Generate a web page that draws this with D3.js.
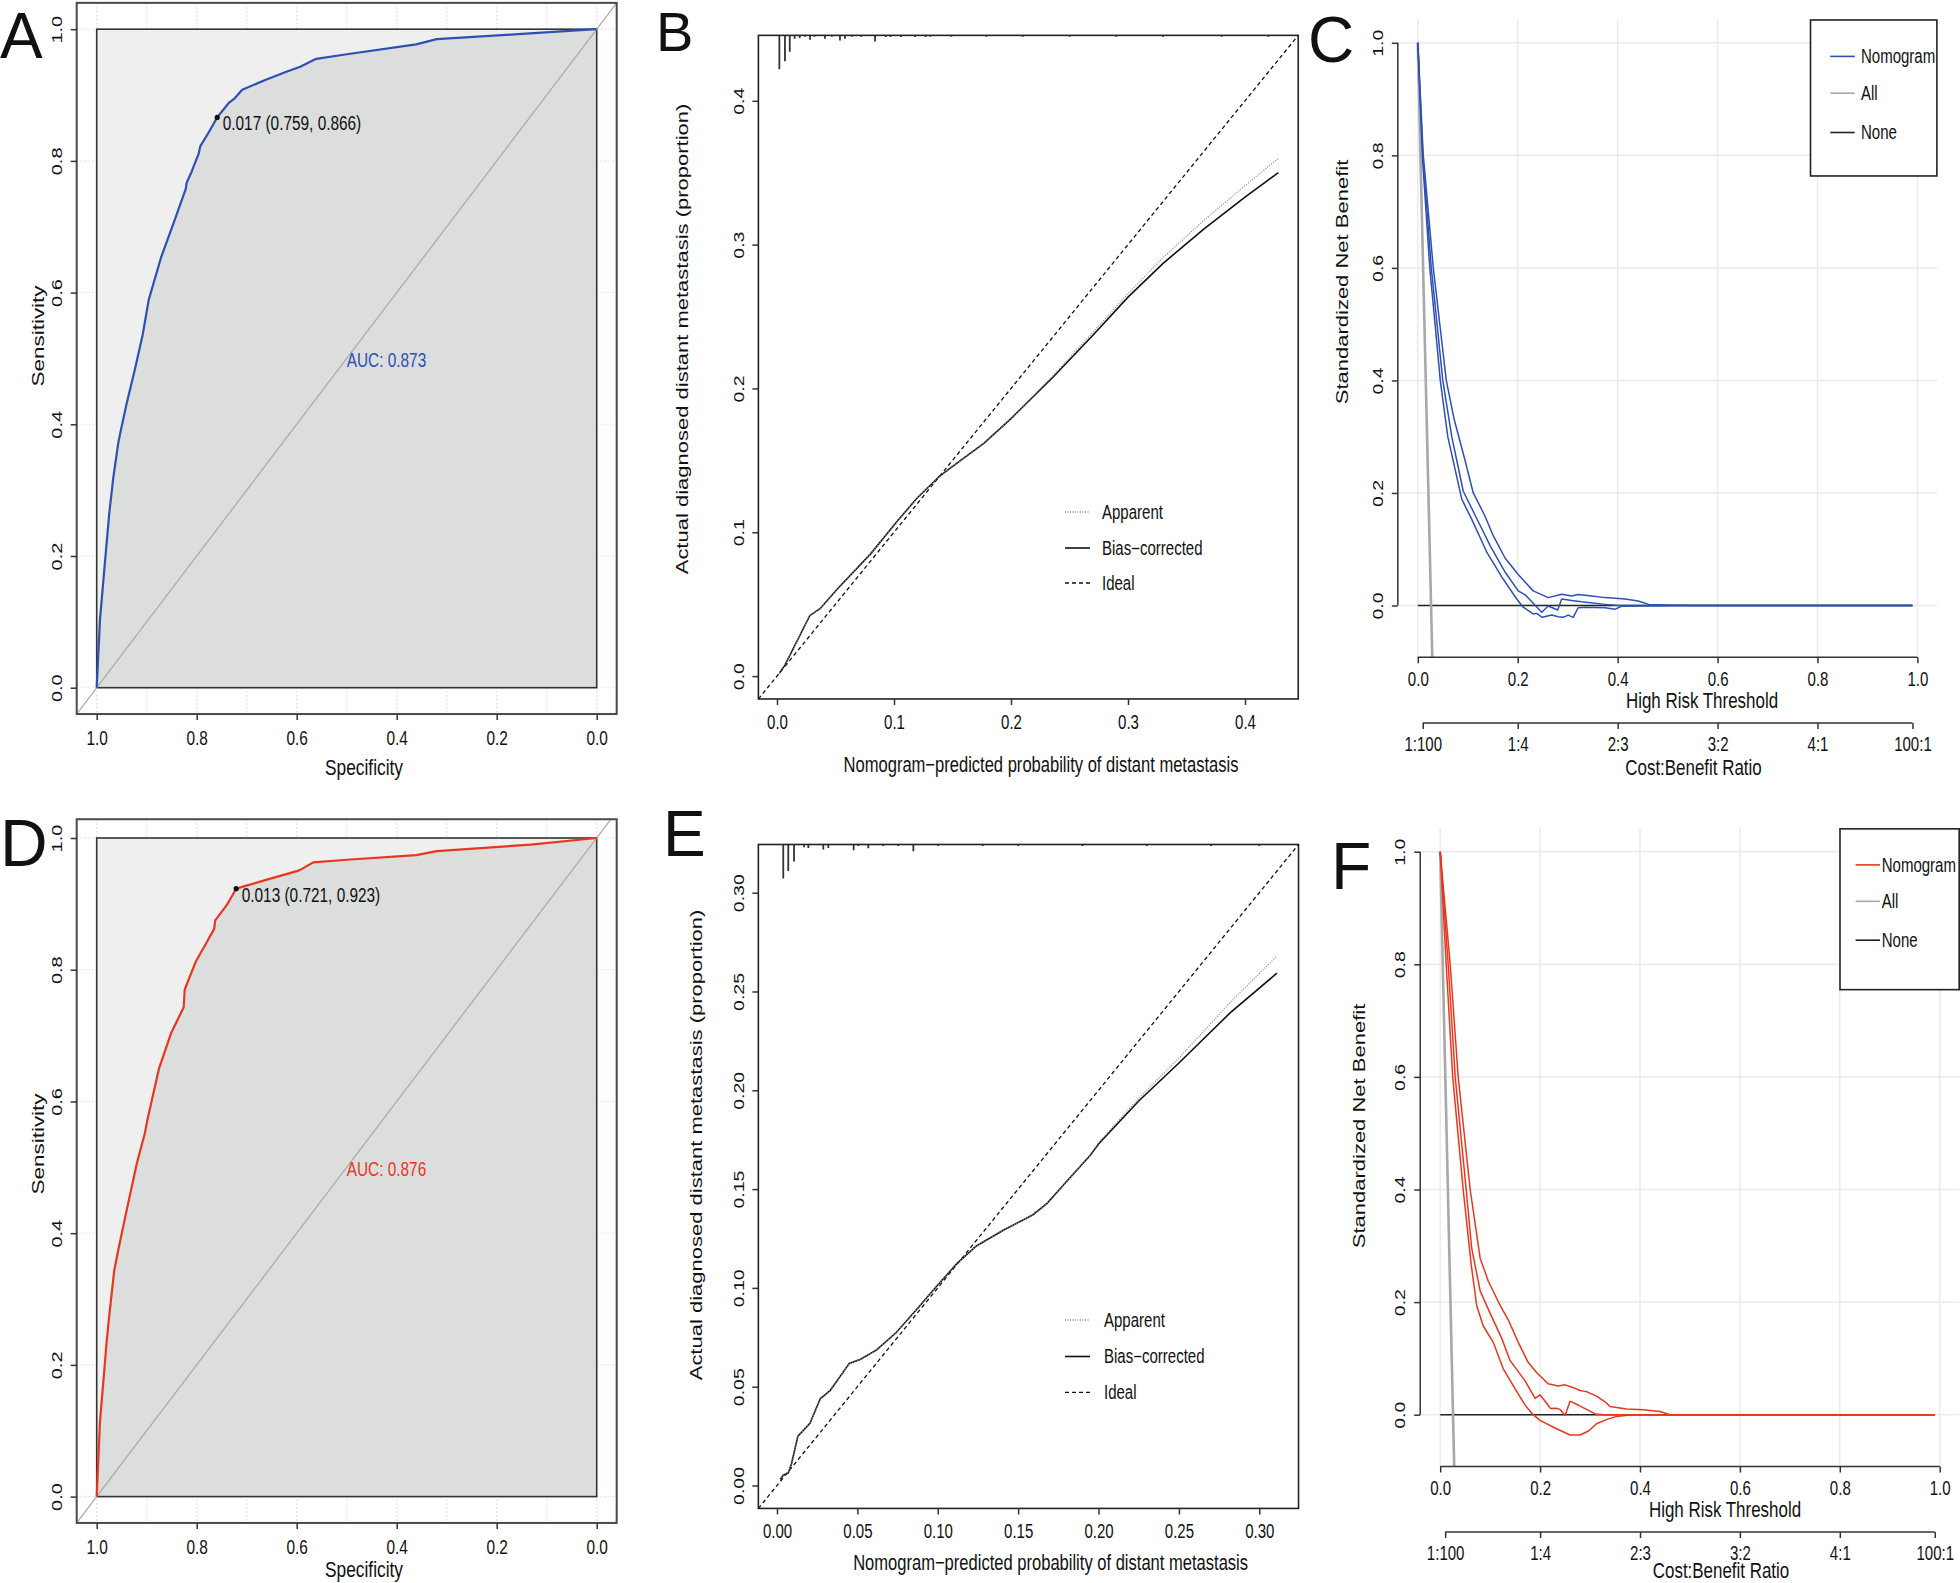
<!DOCTYPE html>
<html><head><meta charset="utf-8">
<script src="https://cdn.jsdelivr.net/npm/d3@7"></script>
<style>
body{margin:0;background:#fff}
svg{display:block}
text{font-family:"Liberation Sans",Arial,Helvetica,sans-serif;fill:#111}
</style></head>
<body><svg id="c" width="1960" height="1583"></svg>
<script>
// ================= DATA =================
// ROC (panel A, training)
const rocA_spec = [1, 0.9935, 0.983, 0.975, 0.967, 0.957, 0.952, 0.94, 0.924, 0.908, 0.896, 0.871, 0.847, 0.822, 0.82, 0.81, 0.796, 0.793, 0.777, 0.759, 0.736, 0.724, 0.709, 0.663, 0.622, 0.593, 0.561, 0.5, 0.361, 0.32, 0.165, 0];
const rocA_sens = [0, 0.103, 0.195, 0.264, 0.318, 0.371, 0.39, 0.432, 0.482, 0.536, 0.589, 0.654, 0.704, 0.757, 0.767, 0.784, 0.811, 0.822, 0.842, 0.866, 0.888, 0.895, 0.908, 0.923, 0.935, 0.943, 0.955, 0.962, 0.977, 0.985, 0.992, 1];
const thrA = [0.759, 0.866];
const thrA_label = "0.017 (0.759, 0.866)";
const aucA_label = "AUC: 0.873";
// ROC (panel D, validation)
const rocD_spec = [1, 0.9935, 0.985, 0.98, 0.975, 0.965, 0.957, 0.94, 0.92, 0.904, 0.898, 0.875, 0.851, 0.826, 0.824, 0.802, 0.785, 0.765, 0.763, 0.74, 0.721, 0.704, 0.663, 0.598, 0.592, 0.567, 0.5, 0.361, 0.32, 0.132, 0];
const rocD_sens = [0, 0.113, 0.19, 0.236, 0.274, 0.343, 0.374, 0.435, 0.505, 0.551, 0.574, 0.651, 0.704, 0.743, 0.770, 0.812, 0.835, 0.862, 0.875, 0.898, 0.923, 0.927, 0.936, 0.95, 0.952, 0.963, 0.967, 0.974, 0.98, 0.99, 1];
const thrD = [0.721, 0.923];
const thrD_label = "0.013 (0.721, 0.923)";
const aucD_label = "AUC: 0.876";
const rocTicks = [0, 0.2, 0.4, 0.6, 0.8, 1.0];
const rocGridX = [0, 0.1, 0.2, 0.3, 0.4, 0.5, 0.6, 0.7, 0.8, 0.9, 1.0];
const rocGridY = [0, 0.2, 0.4, 0.6, 0.8, 1.0];

// Calibration (panel B)
const calB_x        = [0.002, 0.007, 0.028, 0.037, 0.051, 0.080, 0.102, 0.120, 0.139, 0.157, 0.177, 0.200, 0.236, 0.270, 0.300, 0.330, 0.365, 0.400, 0.4285];
const calB_bias     = [0.002, 0.008, 0.042, 0.047, 0.060, 0.085, 0.107, 0.124, 0.139, 0.150, 0.162, 0.179, 0.208, 0.237, 0.2635, 0.287, 0.311, 0.333, 0.350];
const calB_apparent = [0.002, 0.008, 0.042, 0.047, 0.060, 0.085, 0.107, 0.124, 0.139, 0.150, 0.162, 0.179, 0.209, 0.239, 0.266, 0.291, 0.317, 0.341, 0.360];
const calB_lim = [-0.0159, 0.4455];
const calB_ticks = [0, 0.1, 0.2, 0.3, 0.4];
const rugB_x = [0.002, 0.0068, 0.0109, 0.0151, 0.0194, 0.024, 0.0282, 0.032, 0.041, 0.047, 0.0538, 0.0581, 0.064, 0.072, 0.0838, 0.093, 0.097, 0.106, 0.118, 0.127, 0.131, 0.149, 0.179, 0.21, 0.25, 0.29, 0.33, 0.38, 0.42];
const rugB_h = [1, 0.76, 0.48, 0.10, 0.08, 0.04, 0.13, 0.04, 0.10, 0.04, 0.15, 0.10, 0.04, 0.04, 0.18, 0.05, 0.05, 0.05, 0.05, 0.05, 0.04, 0.04, 0.04, 0.03, 0.03, 0.03, 0.03, 0.03, 0.03];

// Calibration (panel E)
const calE_x        = [0.002, 0.004, 0.007, 0.009, 0.013, 0.0205, 0.027, 0.033, 0.045, 0.052, 0.062, 0.074, 0.087, 0.099, 0.112, 0.124, 0.141, 0.159, 0.168, 0.180, 0.195, 0.200, 0.225, 0.250, 0.282, 0.311];
const calE_bias     = [0.003, 0.0053, 0.0062, 0.011, 0.025, 0.0315, 0.044, 0.048, 0.0618, 0.0639, 0.0686, 0.0773, 0.0892, 0.1006, 0.1124, 0.1212, 0.1293, 0.1369, 0.1428, 0.1537, 0.1673, 0.1728, 0.1946, 0.2138, 0.2393, 0.2593];
const calE_apparent = [0.003, 0.0053, 0.0062, 0.011, 0.025, 0.0315, 0.044, 0.048, 0.0618, 0.0639, 0.0686, 0.0773, 0.0892, 0.1006, 0.1124, 0.1212, 0.1293, 0.1369, 0.1428, 0.1537, 0.1673, 0.1735, 0.1960, 0.2163, 0.2445, 0.2680];
const calE_lim = [-0.0116, 0.3244];
const calE_ticks = [0, 0.05, 0.10, 0.15, 0.20, 0.25, 0.30];
const rugE_x = [0.0039, 0.007, 0.0106, 0.0168, 0.0195, 0.0288, 0.0319, 0.0477, 0.0506, 0.0568, 0.0661, 0.0754, 0.0848, 0.1003, 0.128, 0.15, 0.19, 0.23, 0.27, 0.30];
const rugE_h = [1, 0.78, 0.5, 0.08, 0.10, 0.15, 0.10, 0.17, 0.03, 0.11, 0.03, 0.03, 0.20, 0.03, 0.03, 0.03, 0.03, 0.03, 0.03, 0.03];

// Decision curves (panel C)
const dcaC_est = [[0,1],[0.01,0.8],[0.027,0.6],[0.05,0.4],[0.068,0.3],[0.091,0.203],[0.115,0.16],[0.145,0.106],[0.175,0.059],[0.201,0.026],[0.215,0.019],[0.231,0.004],[0.248,-0.012],[0.261,-0.001],[0.28,-0.008],[0.288,0.0116],[0.308,0.009],[0.328,0.0065],[0.375,0.002],[0.401,0],[0.99,0]];
const dcaC_lo  = [[0,1],[0.009,0.8],[0.024,0.6],[0.045,0.4],[0.06,0.3],[0.088,0.189],[0.108,0.153],[0.138,0.095],[0.168,0.051],[0.198,0.0116],[0.211,-0.003],[0.231,-0.015],[0.238,-0.014],[0.249,-0.021],[0.268,-0.017],[0.281,-0.02],[0.291,-0.021],[0.301,-0.017],[0.311,-0.021],[0.321,-0.004],[0.335,-0.003],[0.375,-0.004],[0.395,-0.0065],[0.408,-0.0015],[0.441,-0.001],[0.535,0],[0.99,0]];
const dcaC_hi  = [[0,1],[0.011,0.8],[0.031,0.6],[0.057,0.4],[0.073,0.33],[0.094,0.26],[0.111,0.2],[0.134,0.16],[0.151,0.124],[0.175,0.084],[0.201,0.055],[0.231,0.026],[0.261,0.014],[0.288,0.02],[0.308,0.017],[0.321,0.0196],[0.348,0.0167],[0.375,0.014],[0.415,0.0116],[0.441,0.008],[0.462,0.002],[0.542,0],[0.99,0]];
const dcaC_all = [[0,1],[0.029,-0.092]];
// Decision curves (panel F)
const dcaF_est = [[0,1],[0.016,0.8],[0.03,0.6],[0.052,0.4],[0.063,0.296],[0.08,0.22],[0.1,0.18],[0.123,0.136],[0.14,0.096],[0.17,0.06],[0.19,0.029],[0.2,0.035],[0.21,0.024],[0.221,0.011],[0.232,0.0116],[0.24,0.0094],[0.25,-0.0014],[0.26,0.024],[0.277,0.0167],[0.293,0.0094],[0.31,0.0014],[0.327,0],[0.99,0]];
const dcaF_lo  = [[0,1],[0.012,0.8],[0.025,0.6],[0.046,0.4],[0.062,0.267],[0.073,0.194],[0.086,0.158],[0.106,0.129],[0.126,0.082],[0.15,0.046],[0.17,0.017],[0.186,0],[0.2,-0.01],[0.233,-0.025],[0.26,-0.036],[0.28,-0.036],[0.297,-0.029],[0.307,-0.021],[0.313,-0.016],[0.333,-0.0087],[0.353,-0.003],[0.38,-0.0007],[0.4,0],[0.99,0]];
const dcaF_hi  = [[0,1],[0.02,0.8],[0.036,0.6],[0.06,0.4],[0.08,0.278],[0.096,0.238],[0.12,0.194],[0.136,0.169],[0.156,0.129],[0.176,0.093],[0.193,0.075],[0.216,0.055],[0.236,0.051],[0.25,0.053],[0.267,0.048],[0.28,0.043],[0.293,0.041],[0.313,0.033],[0.33,0.023],[0.34,0.0145],[0.373,0.01],[0.407,0.0087],[0.44,0.0058],[0.46,0],[0.99,0]];
const dcaF_all = [[0,1],[0.028,-0.092]];
const dca_none = [[0,0],[0.99,0]];
const dcaTicks = [0, 0.2, 0.4, 0.6, 0.8, 1.0];
const cbTicks = [0.0099, 0.2, 0.4, 0.6, 0.8, 0.9901];
const cbLabels = ["1:100", "1:4", "2:3", "3:2", "4:1", "100:1"];
const dcaLegend = ["Nomogram", "All", "None"];
const calLegend = ["Apparent", "Bias\u2212corrected", "Ideal"];

// ================= DRAWING =================
const SQ = 0.77;
const svg = d3.select("#c");
let clipN = 0;

function addText(g, x, y, s, o = {}) {
  const sq = o.sq === undefined ? SQ : o.sq;
  let tr = `translate(${x},${y}) scale(${sq},1)`;
  if (o.rot) tr += " rotate(-90)";
  return g.append("text").attr("transform", tr)
    .attr("text-anchor", o.anchor || "middle")
    .attr("dy", o.dy === undefined ? "0.35em" : o.dy)
    .style("font-size", (o.size || 19) + "px")
    .style("fill", o.fill || "#111")
    .text(s);
}
function clip(L, T, R, B) {
  const id = "clip" + (clipN++);
  svg.append("clipPath").attr("id", id).append("rect")
    .attr("x", L).attr("y", T).attr("width", R - L).attr("height", B - T);
  return `url(#${id})`;
}
function bottomAxis(g, scale, y0, ticks, fmt, o = {}) {
  const a = g.append("g").attr("transform", `translate(0,${y0})`)
    .call(d3.axisBottom(scale).tickValues(ticks).tickFormat(fmt).tickSize(6).tickSizeOuter(0));
  a.select(".domain").remove();
  a.selectAll(".tick line").attr("stroke", "#333").attr("stroke-width", 1.5);
  a.selectAll(".tick text").attr("y", null).attr("dy", "0.35em")
    .attr("transform", `translate(0,${o.off || 23}) scale(${SQ},1)`)
    .style("font-size", (o.size || 19.5) + "px");
  if (o.line) a.append("line").attr("x1", scale(ticks[0])).attr("x2", scale(ticks[ticks.length - 1]))
    .attr("stroke", "#333").attr("stroke-width", 1.5);
  return a;
}
function leftAxis(g, scale, x0, ticks, fmt, o = {}) {
  const a = g.append("g").attr("transform", `translate(${x0},0)`)
    .call(d3.axisLeft(scale).tickValues(ticks).tickFormat(fmt).tickSize(6).tickSizeOuter(0));
  a.select(".domain").remove();
  a.selectAll(".tick line").attr("stroke", "#333").attr("stroke-width", 1.5);
  a.selectAll(".tick text").attr("x", null).attr("dy", "0.35em").attr("text-anchor", "middle")
    .attr("transform", `translate(${-(o.off || 20)},0) scale(${SQ},1) rotate(-90)`)
    .style("font-size", (o.size || 19.5) + "px");
  if (o.line) a.append("line").attr("y1", scale(ticks[0])).attr("y2", scale(ticks[ticks.length - 1]))
    .attr("stroke", "#333").attr("stroke-width", 1.5);
  return a;
}

// ---------- ROC panels ----------
function rocPanel(o) {
  const g = svg.append("g");
  const x = d3.scaleLinear().domain([1, 0]).range([96.7, 596.7]);
  const y = d3.scaleLinear().domain([0, 1]).range(o.yr);
  const L = x(1.04), R = x(-0.04), T = y(o.ytop), B = y(-0.04);
  const cp = clip(L, T, R, B);
  const gg = g.append("g").attr("clip-path", cp);
  gg.selectAll(".gx").data(rocGridX).join("line")
    .attr("x1", d => x(d)).attr("x2", d => x(d)).attr("y1", T).attr("y2", B)
    .attr("stroke", "#d8d8d8").attr("stroke-dasharray", "1.5,2.5");
  gg.selectAll(".gy").data(rocGridY).join("line")
    .attr("y1", d => y(d)).attr("y2", d => y(d)).attr("x1", L).attr("x2", R)
    .attr("stroke", "#d8d8d8").attr("stroke-dasharray", "1.5,2.5");
  // max AUC polygon
  gg.append("rect").attr("x", x(1)).attr("y", y(1)).attr("width", x(0) - x(1)).attr("height", y(0) - y(1))
    .attr("fill", "#efefef");
  const pts = o.spec.map((s, i) => [s, o.sens[i]]);
  const area = pts.concat([[0, 0]]);
  gg.append("path").datum(area)
    .attr("d", d3.line().x(d => x(d[0])).y(d => y(d[1]))(area) + "Z")
    .attr("fill", "#dcdddd");
  gg.append("rect").attr("x", x(1)).attr("y", y(1)).attr("width", x(0) - x(1)).attr("height", y(0) - y(1))
    .attr("fill", "none").attr("stroke", "#333").attr("stroke-width", 1.6);
  // identity
  gg.append("line").attr("x1", x(1.1)).attr("y1", y(-0.1)).attr("x2", x(-0.1)).attr("y2", y(1.1))
    .attr("stroke", "#a9a9a9").attr("stroke-width", 1.2);
  // curve
  gg.append("path").datum(pts)
    .attr("d", d3.line().x(d => x(d[0])).y(d => y(d[1])))
    .attr("fill", "none").attr("stroke", o.color).attr("stroke-width", 2.2).attr("stroke-linejoin", "round");
  // threshold
  g.append("circle").attr("cx", x(o.thr[0])).attr("cy", y(o.thr[1])).attr("r", 2.6).attr("fill", "#111");
  addText(g, x(o.thr[0]) + 5.5, y(o.thr[1]) + 6, o.thrLabel, { anchor: "start", size: 20 });
  addText(g, x(0.5), y(0.5) + 2, o.auc, { anchor: "start", size: 20, fill: o.color });
  // frame
  g.append("rect").attr("x", L).attr("y", T).attr("width", R - L).attr("height", B - T)
    .attr("fill", "none").attr("stroke", "#4a4a4a").attr("stroke-width", 2);
  bottomAxis(g, x, B, rocTicks, d3.format(".1f"), { off: o.xoff, size: 20 });
  leftAxis(g, y, L, rocTicks, d3.format(".1f"), { off: 20, size: 20 });
  addText(g, 364, o.xTitleY, "Specificity", { size: 22.5 });
  addText(g, 37.5, o.yTitleY, "Sensitivity", { size: 22.5, rot: true });
}

// ---------- calibration panels ----------
function calPanel(o) {
  const g = svg.append("g");
  const x = d3.scaleLinear().domain(o.xd).range(o.xr);
  const y = d3.scaleLinear().domain(o.yd).range(o.yr);
  const L = x(o.lim[0]), R = x(o.lim[1]), T = y(o.lim[1]), B = y(o.lim[0]);
  const cp = clip(L, T, R, B);
  const gg = g.append("g").attr("clip-path", cp);
  gg.append("line").attr("x1", x(o.lim[0])).attr("y1", y(o.lim[0])).attr("x2", x(o.lim[1])).attr("y2", y(o.lim[1]))
    .attr("stroke", "#111").attr("stroke-width", 1.3).attr("stroke-dasharray", "4,3");
  const line = d3.line().x(d => x(d[0])).y(d => y(d[1]));
  gg.append("path").datum(o.cx.map((v, i) => [v, o.bias[i]])).attr("d", line)
    .attr("fill", "none").attr("stroke", "#111").attr("stroke-width", 1.6);
  gg.append("path").datum(o.cx.map((v, i) => [v, o.app[i]])).attr("d", line)
    .attr("fill", "none").attr("stroke", "#8a8a8a").attr("stroke-width", 1.3).attr("stroke-dasharray", "1,1.5");
  // rug / histogram
  const h = d3.scaleLinear().domain([0, 1]).range([0, 34]);
  gg.selectAll(".rug").data(o.rx).join("line")
    .attr("x1", d => x(d)).attr("x2", d => x(d)).attr("y1", T)
    .attr("y2", (d, i) => T + Math.max(1.5, h(o.rh[i])))
    .attr("stroke", "#333").attr("stroke-width", 1.8);
  g.append("rect").attr("x", L).attr("y", T).attr("width", R - L).attr("height", B - T)
    .attr("fill", "none").attr("stroke", "#222").attr("stroke-width", 1.6);
  bottomAxis(g, x, B, o.ticks, d3.format(o.fmt), { off: 23 });
  leftAxis(g, y, L, o.ticks, d3.format(o.fmt), { off: 19.5 });
  addText(g, o.xTitle[0], o.xTitle[1], "Nomogram\u2212predicted probability of distant metastasis", { size: 21.5 });
  addText(g, o.yTitle[0], o.yTitle[1], "Actual diagnosed distant metastasis (proportion)", { size: 22, rot: true });
  // legend
  const styles = [
    { c: "#8a8a8a", w: 1.3, d: "1,1.5" },
    { c: "#111", w: 1.6, d: null },
    { c: "#111", w: 1.3, d: "4,3" }
  ];
  calLegend.forEach((s, i) => {
    g.append("line").attr("x1", o.leg.x1).attr("x2", o.leg.x2).attr("y1", o.leg.rows[i]).attr("y2", o.leg.rows[i])
      .attr("stroke", styles[i].c).attr("stroke-width", styles[i].w).attr("stroke-dasharray", styles[i].d);
    addText(g, o.leg.tx, o.leg.rows[i], s, { anchor: "start", size: 19.5 });
  });
}

// ---------- decision curve panels ----------
function dcaPanel(o) {
  const g = svg.append("g");
  const x = d3.scaleLinear().domain([0, 1]).range(o.xr);
  const y = d3.scaleLinear().domain([0, 1]).range(o.yr);
  const L = x(-0.04), R = x(1.04), T = y(1.042), B = y(-0.092);
  const cp = clip(L, T, R, B);
  const gg = g.append("g").attr("clip-path", cp);
  gg.selectAll(".gx").data(dcaTicks).join("line")
    .attr("x1", d => x(d)).attr("x2", d => x(d)).attr("y1", T).attr("y2", B)
    .attr("stroke", "#ebebeb").attr("stroke-width", 1.5);
  gg.selectAll(".gy").data(dcaTicks).join("line")
    .attr("y1", d => y(d)).attr("y2", d => y(d)).attr("x1", L).attr("x2", R)
    .attr("stroke", "#ebebeb").attr("stroke-width", 1.5);
  const line = d3.line().x(d => x(d[0])).y(d => y(d[1]));
  gg.append("path").datum(dca_none).attr("d", line).attr("fill", "none").attr("stroke", "#222").attr("stroke-width", 1.6);
  gg.append("path").datum(o.all).attr("d", line).attr("fill", "none").attr("stroke", "#a8a8a8").attr("stroke-width", 2.6);
  [o.lo, o.est, o.hi].forEach(d => {
    gg.append("path").datum(d).attr("d", line).attr("fill", "none").attr("stroke", o.color)
      .attr("stroke-width", 1.5).attr("stroke-linejoin", "round");
  });
  bottomAxis(g, x, B, dcaTicks, d3.format(".1f"), { off: 22, line: true });
  leftAxis(g, y, L, dcaTicks, d3.format(".1f"), { off: 20, line: true });
  addText(g, o.hrt[0], o.hrt[1], "High Risk Threshold", { size: 22 });
  bottomAxis(g, x, o.cbY, cbTicks, (d, i) => cbLabels[i], { off: 21, line: true });
  addText(g, o.cbt[0], o.cbt[1], "Cost:Benefit Ratio", { size: 22 });
  addText(g, o.yt[0], o.yt[1], "Standardized Net Benefit", { size: 22, rot: true });
  // legend
  const lg = o.leg;
  g.append("rect").attr("x", lg.x).attr("y", T + 0.8).attr("width", R - lg.x - 0.5).attr("height", lg.h)
    .attr("fill", "#fff").attr("stroke", "#222").attr("stroke-width", 1.6);
  const cols = [o.color, "#a8a8a8", "#222"];
  dcaLegend.forEach((s, i) => {
    g.append("line").attr("x1", lg.x1).attr("x2", lg.x2).attr("y1", lg.rows[i]).attr("y2", lg.rows[i])
      .attr("stroke", cols[i]).attr("stroke-width", 1.6);
    addText(g, lg.tx, lg.rows[i], s, { anchor: "start", size: 19.5 });
  });
}

// ---------- build ----------
rocPanel({ spec: rocA_spec, sens: rocA_sens, color: "#2e50b4", yr: [687.7, 29.2], ytop: 1.04,
  thr: thrA, thrLabel: thrA_label, auc: aucA_label, xoff: 24, xTitleY: 767, yTitleY: 336 });
rocPanel({ spec: rocD_spec, sens: rocD_sens, color: "#e8371e", yr: [1496.6, 838], ytop: 1.0285,
  thr: thrD, thrLabel: thrD_label, auc: aucD_label, xoff: 23.6, xTitleY: 1569, yTitleY: 1144 });

calPanel({ xd: [0, 0.4], xr: [777, 1245], yd: [0, 0.4], yr: [676.1, 100.8], lim: calB_lim,
  cx: calB_x, bias: calB_bias, app: calB_apparent, rx: rugB_x, rh: rugB_h, ticks: calB_ticks, fmt: ".1f",
  xTitle: [1041, 764.3], yTitle: [682, 339],
  leg: { x1: 1065, x2: 1090, tx: 1102, rows: [512, 548, 583] } });
calPanel({ xd: [0, 0.3], xr: [777, 1259.3], yd: [0, 0.3], yr: [1485.5, 892.7], lim: calE_lim,
  cx: calE_x, bias: calE_bias, app: calE_apparent, rx: rugE_x, rh: rugE_h, ticks: calE_ticks, fmt: ".2f",
  xTitle: [1050.6, 1562.4], yTitle: [696.4, 1145],
  leg: { x1: 1065, x2: 1090, tx: 1104, rows: [1320, 1356.5, 1392.4] } });

dcaPanel({ xr: [1417.8, 1917.4], yr: [605.5, 42.8], color: "#2e50b4",
  est: dcaC_est, lo: dcaC_lo, hi: dcaC_hi, all: dcaC_all,
  hrt: [1702, 700], cbY: 723, cbt: [1693.5, 767], yt: [1342, 282],
  leg: { x: 1810.5, h: 156, x1: 1830.3, x2: 1854.7, tx: 1861, rows: [56.4, 93.2, 132.5] } });
dcaPanel({ xr: [1440.2, 1939.7], yr: [1414.7, 851.7], color: "#e8371e",
  est: dcaF_est, lo: dcaF_lo, hi: dcaF_hi, all: dcaF_all,
  hrt: [1725, 1509], cbY: 1532, cbt: [1721, 1570.5], yt: [1359, 1126],
  leg: { x: 1840, h: 160.8, x1: 1855.6, x2: 1880, tx: 1881.7, rows: [864.9, 901.3, 940.2] } });

// panel letters
const letters = [["A", 0, 58, 64], ["B", 656, 51, 56], ["C", 1308, 62, 64], ["D", 0, 866, 66], ["E", 663, 856, 64], ["F", 1331, 889, 66]];
letters.forEach(l => {
  svg.append("text").attr("x", l[1]).attr("y", l[2]).style("font-size", l[3] + "px").style("fill", "#111").text(l[0]);
});
</script>
</body></html>
